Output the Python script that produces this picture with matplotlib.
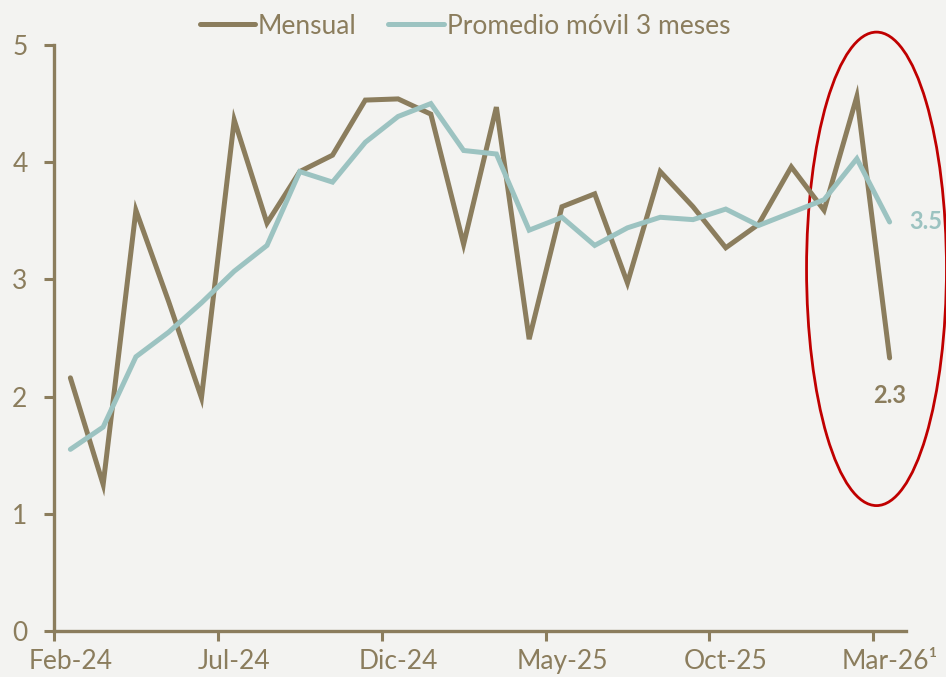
import numpy as np
import matplotlib.pyplot as plt
from matplotlib.patches import Ellipse

# data
meses = ['Feb-24', 'Mar-24', 'Abr-24', 'May-24', 'Jun-24', 'Jul-24', 'Ago-24', 'Sep-24',
         'Oct-24', 'Nov-24', 'Dic-24', 'Ene-25', 'Feb-25', 'Mar-25', 'Abr-25', 'May-25',
         'Jun-25', 'Jul-25', 'Ago-25', 'Sep-25', 'Oct-25', 'Nov-25', 'Dic-25', 'Ene-26',
         'Feb-26', 'Mar-26']
mensual = [2.16, 1.25, 3.59, 2.81, 1.99, 4.36, 3.48, 3.92, 4.06, 4.53, 4.54, 4.41, 3.30,
           4.47, 2.49, 3.62, 3.73, 2.97, 3.92, 3.62, 3.27, 3.47, 3.96, 3.59, 4.56, 2.33]
promedio3 = [1.55, 1.74, 2.34, 2.55, 2.80, 3.07, 3.29, 3.92, 3.83, 4.17, 4.39, 4.50, 4.10,
             4.07, 3.42, 3.53, 3.29, 3.44, 3.53, 3.51, 3.60, 3.46, 3.57, 3.68, 4.03, 3.49]
etiquetas_x = ['Feb-24', 'Jul-24', 'Dic-24', 'May-25', 'Oct-25', 'Mar-26¹']

cafe = '#8B7D5D'
verde = '#9CC3C1'
fondo = '#F3F3F1'

plt.rcParams['font.family'] = ['Lato', 'DejaVu Sans']

fig = plt.figure(figsize=(9.46, 6.77), dpi=100, facecolor=fondo)
ax = fig.add_axes([54/946, 46/677, 852/946, 586/677], facecolor=fondo)

x = np.arange(len(meses))
ax.plot(x, mensual, color=cafe, lw=3.6, label='Mensual', solid_joinstyle='miter',
        solid_capstyle='round')
ax.plot(x, promedio3, color=verde, lw=3.6, label='Promedio móvil 3 meses',
        solid_joinstyle='miter', solid_capstyle='round')

ax.set_xlim(-0.5, len(meses) - 0.5)
ax.set_ylim(0, 5)

# labels at month centres, tick marks at month boundaries
pos = [0, 5, 10, 15, 20, 25]
ax.set_xticks(pos)
ax.set_xticklabels(etiquetas_x)
ax.set_xticks([p - 0.5 for p in pos], minor=True)
ax.tick_params(axis='x', which='major', length=0, pad=13, labelsize=19, labelcolor=cafe)
ax.tick_params(axis='x', which='minor', length=7, width=2.2, color=cafe, direction='out')
ax.set_yticks([0, 1, 2, 3, 4, 5])
ax.tick_params(axis='y', length=7, width=2.2, color=cafe, pad=12, labelsize=19, labelcolor=cafe)

for s in ['top', 'right']:
    ax.spines[s].set_visible(False)
for s in ['left', 'bottom']:
    ax.spines[s].set_color(cafe)
    ax.spines[s].set_linewidth(2.4)

# end labels
ax.text(x[-1] + 1.1, promedio3[-1], '3.5', color=verde, fontsize=17, fontweight='bold',
        ha='center', va='center', clip_on=False)
ax.text(x[-1], mensual[-1] - 0.32, '2.3', color=cafe, fontsize=17, fontweight='bold',
        ha='center', va='center', clip_on=False)

# red highlight ellipse
elipse = Ellipse((24.6, 3.09), width=4.27, height=4.04, fill=False, edgecolor='#C00000',
                 lw=2.0, clip_on=False)
ax.add_patch(elipse)

fig.legend(loc='center', bbox_to_anchor=(465/946, 1 - 26/677), ncol=2, frameon=False,
           fontsize=19, labelcolor=cafe, handlelength=2.1, handletextpad=0.1,
           columnspacing=1.2)

plt.savefig('out.png', dpi=100, facecolor=fondo)
